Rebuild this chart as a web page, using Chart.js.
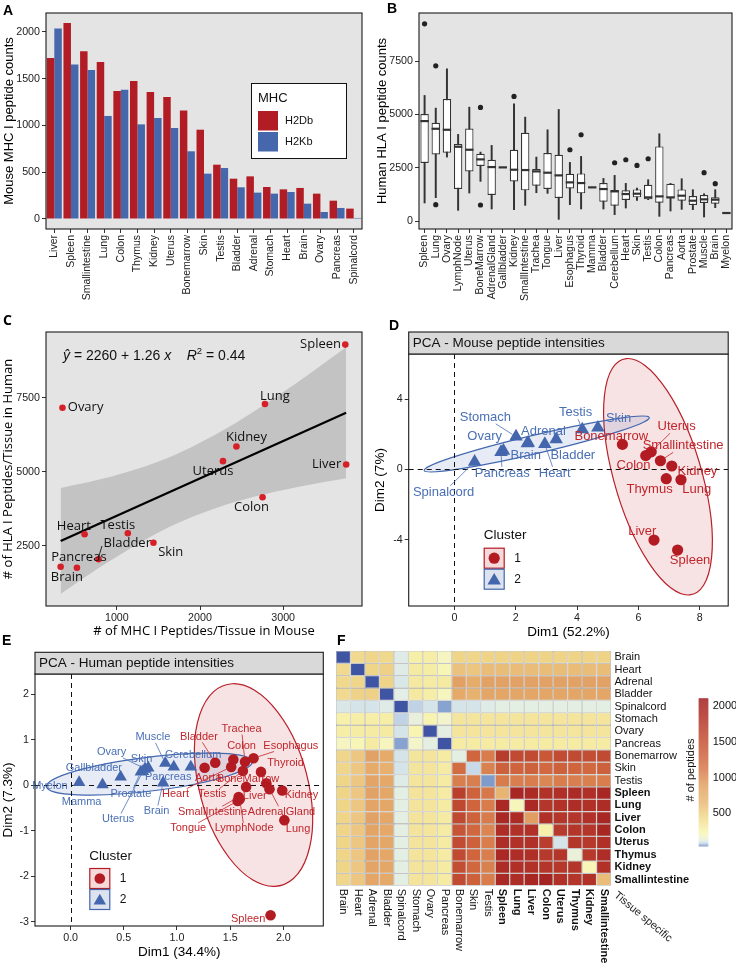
<!DOCTYPE html>
<html>
<head>
<meta charset="utf-8">
<script src="https://cdn.jsdelivr.net/npm/chart.js@4.4.1/dist/chart.umd.min.js"></script>
<style>
  body { margin: 0; background: #fff; }
  #fig { position: relative; width: 736px; height: 963px; overflow: hidden; font-family: 'Liberation Sans', Arial, sans-serif; }
  #fig canvas { position: absolute; }
  .tag { position: absolute; font-weight: bold; font-size: 14px; line-height: 1; color: #000; }
</style>
</head>
<body>
<div id="fig">
  <canvas id="cA" width="368" height="305" style="left:0;top:0"></canvas>
  <canvas id="cB" width="370" height="305" style="left:366px;top:0"></canvas>
  <canvas id="cC" width="368" height="340" style="left:0;top:300px"></canvas>
  <canvas id="cD" width="370" height="340" style="left:366px;top:300px"></canvas>
  <canvas id="cE" width="368" height="323" style="left:0;top:640px"></canvas>
  <canvas id="cF" width="406" height="323" style="left:330px;top:640px"></canvas>
  <div class="tag" style="left:3px;top:3px">A</div>
  <div class="tag" style="left:387px;top:1px">B</div>
  <div class="tag" style="left:3px;top:313px;font-family:'Open Sans'">C</div>
  <div class="tag" style="left:389px;top:318px">D</div>
  <div class="tag" style="left:2px;top:633px">E</div>
  <div class="tag" style="left:337px;top:633px">F</div>
</div>
<script>
// ---- A: mouse MHC I peptide counts
const mouseTissues = ['Liver','Spleen','Smallintestine','Lung','Colon','Thymus','Kidney','Uterus','Bonemarrow','Skin','Testis','Bladder','Adrenal','Stomach','Heart','Brain','Ovary','Pancreas','Spinalcord'];
const h2db = [1722,2096,1793,1679,1369,1476,1358,1305,1159,955,581,431,456,342,317,332,271,196,111];
const h2kb = [2036,1651,1594,1102,1383,1012,1080,973,724,485,545,339,282,271,289,164,75,118,11];
const aYTicks = [0,500,1000,1500,2000];

// ---- B: human HLA I peptide counts (box stats)
const humanTissues = ['Spleen','Lung','Ovary','LymphNode','Uterus','BoneMarrow','AdrenalGland','Gallbladder','Kidney','SmallIntestine','Trachea','Tongue','Liver','Esophagus','Thyroid','Mamma','Bladder','Cerebellum','Heart','Skin','Testis','Colon','Pancreas','Aorta','Prostate','Muscle','Brain','Myelon'];
const hLow  = [844,1094,3000,500,1313,1859,563,null,531,734,1328,1297,78,766,563,null,563,297,609,969,1000,219,469,547,531,188,625,null];
const hQ1   = [2719,3125,3203,1500,2328,2578,1219,null,1859,1438,1656,1500,1078,1531,1297,null,906,719,984,1109,1016,859,1063,953,750,844,813,null];
const hMed  = [4688,4328,4281,3484,3344,2891,2531,2516,2406,2391,2328,2266,2141,1813,1781,1578,1500,1391,1266,1281,1109,1156,1109,1188,953,1016,1000,375];
const hQ3   = [5016,4609,5719,3609,4344,3156,2875,null,3344,4141,2438,3188,3109,2219,2234,null,1781,1453,1438,1484,1703,3500,1750,1484,1172,1219,1109,null];
const hHigh = [5891,5297,7141,4063,5344,3234,3547,null,5500,4875,3000,4281,5234,2750,3031,null,2000,2141,1766,1547,1938,4094,1766,1984,1469,1281,1469,null];
const outlierTissues = ['Spleen','Lung','Lung','BoneMarrow','BoneMarrow','Kidney','Esophagus','Thyroid','Cerebellum','Heart','Skin','Testis','Muscle','Brain'];
const outlierCounts  = [9250,7281,766,5328,750,5844,3344,4047,2734,2875,2609,2922,2266,1750];
const bYTicks = [0,2500,5000,7500];

// ---- C: mouse vs human per tissue
const cTissues = ['Spleen','Lung','Ovary','Kidney','Uterus','Liver','Colon','Heart','Testis','Skin','Bladder','Pancreas','Brain'];
const cMouse = [3747,2781,346,2438,2276,3758,2752,612,1132,1440,780,324,520];
const cHuman = [9290,7287,7162,5855,5361,5247,4145,2895,2929,2611,2051,1801,1767];
const fitX = [324,3757];
const fitY = [2668,6994];
const bandX  = [324,800,1300,1762,2300,2800,3300,3757];
const bandHi = [4454,4747,5149,5653,6435,7312,8276,9200];
const bandLo = [882,1789,2647,3307,3881,4264,4560,4788];
const cXTicks = [1000,2000,3000];
const cYTicks = [2500,5000,7500];

// ---- D: PCA mouse
const mouseC1Names = ['Bonemarrow','Colon','Uterus','Smallintestine','Kidney','Thymus','Lung','Liver','Spleen'];
const mouseC1Dim1 = [5.48,6.24,6.42,6.72,7.09,6.91,7.39,6.51,7.28];
const mouseC1Dim2 = [1.42,0.78,1.0,0.49,0.19,-0.53,-0.59,-4.02,-4.59];
const mouseC2Names = ['Spinalcord','Pancreas','Ovary','Stomach','Adrenal','Brain','Heart','Bladder','Testis','Skin'];
const mouseC2Dim1 = [0.66,1.52,1.6,2.01,2.41,2.38,2.95,3.32,4.17,4.68];
const mouseC2Dim2 = [0.43,0.98,1.05,1.86,1.51,1.48,1.44,1.71,2.27,2.37];
const dXTicks = [0,2,4,6,8];
const dYTicks = [-4,0,4];

// ---- E: PCA human
const humanC1Names = ['Aorta','Bladder','Colon','Heart','Trachea','Esophagus','Testis','Thyroid','Liver','BoneMarrow','AdrenalGland','Kidney','SmallIntestine','Tongue','LymphNode','Lung','Spleen'];
const humanC1Dim1 = [1.26,1.36,1.53,1.51,1.64,1.72,1.62,1.79,1.65,1.84,1.87,1.99,1.58,1.57,1.59,2.01,1.88];
const humanC1Dim2 = [0.38,0.49,0.56,0.40,0.51,0.59,0.31,0.29,-0.04,0.04,-0.09,-0.12,-0.26,-0.35,-0.31,-0.77,-2.86];
const humanC2Names = ['Myelon','Mamma','Gallbladder','Prostate','Ovary','Skin','Muscle','Pancreas','Uterus','Brain','Cerebellum'];
const humanC2Dim1 = [0.08,0.30,0.47,0.66,0.70,0.73,0.89,0.97,0.68,0.87,1.13];
const humanC2Dim2 = [0.06,0.01,0.18,0.29,0.36,0.38,0.48,0.40,0.30,0.05,0.40];
const eXTicks = [0,0.5,1,1.5,2];
const eYTicks = [-3,-2,-1,0,1,2];

// ---- F: shared peptides heatmap (rows top to bottom, same column order)
const heatTissues = ['Brain','Heart','Adrenal','Bladder','Spinalcord','Stomach','Ovary','Pancreas','Bonemarrow','Skin','Testis','Spleen','Lung','Liver','Colon','Uterus','Thymus','Kidney','Smallintestine'];
const heatBold = ['Spleen','Lung','Liver','Colon','Uterus','Thymus','Kidney','Smallintestine'];
const hmBrain      = [0,440,470,450,105,290,300,190,480,470,490,490,490,490,490,490,490,490,490];
const hmHeart      = [440,0,480,510,105,330,310,220,600,580,640,640,640,640,640,640,640,640,640];
const hmAdrenal    = [450,470,0,490,100,340,320,330,900,800,880,880,880,880,880,880,880,880,880];
const hmBladder    = [440,500,510,0,110,340,300,200,820,740,850,850,850,850,850,850,850,850,850];
const hmSpinalcord = [100,95,95,105,0,75,95,45,95,95,105,115,115,115,115,115,115,115,115];
const hmStomach    = [280,300,300,300,75,130,250,165,360,360,370,370,370,370,370,370,370,370,370];
const hmOvary      = [300,310,320,330,95,240,0,120,370,370,370,370,370,370,370,370,370,370,370];
const hmPancreas   = [190,220,320,200,45,170,120,0,320,320,320,320,320,320,320,320,320,320,320];
const hmBonemarrow = [470,570,880,810,95,360,370,320,115,1300,1120,1750,1600,1600,1450,1580,1600,1560,1600];
const hmSkin       = [470,570,810,760,95,360,370,320,1250,80,1080,1350,1330,1350,1280,1350,1320,1280,1350];
const hmTestis     = [480,570,870,830,105,370,370,320,1100,1100,40,1120,1100,1110,1050,1110,1100,1090,1110];
const hmSpleen     = [480,570,880,840,115,380,370,320,1700,1340,1150,720,2000,1950,1850,1880,1950,1880,2000];
const hmLung       = [480,570,870,840,115,380,370,320,1620,1320,1120,1980,210,1980,1820,1850,1920,1860,1930];
const hmLiver      = [480,570,880,840,115,380,370,320,1620,1340,1130,1980,1950,920,1880,1820,1820,1860,2000];
const hmColon      = [480,570,870,830,115,380,370,320,1480,1290,1060,1920,1860,1860,280,1760,1820,1820,2000];
const hmUterus     = [480,570,870,840,115,380,370,320,1580,1350,1110,1920,1860,1860,1730,95,1820,1780,1880];
const hmThymus     = [480,570,880,840,115,380,370,320,1600,1320,1100,1980,1920,1880,1780,1820,140,1780,1920];
const hmKidney     = [480,570,870,840,115,380,370,320,1560,1290,1090,1930,1880,1860,1820,1790,1820,220,1860];
const hmSmallint   = [470,570,860,820,115,380,370,320,1600,1350,1110,1980,1920,2000,2060,1860,1820,1860,640];
const heatRows = [hmBrain,hmHeart,hmAdrenal,hmBladder,hmSpinalcord,hmStomach,hmOvary,hmPancreas,hmBonemarrow,hmSkin,hmTestis,hmSpleen,hmLung,hmLiver,hmColon,hmUterus,hmThymus,hmKidney,hmSmallint];
const heatTicks = [500,1000,1500,2000];

// ---------------------------------------------------------------------------
const FONT = "'Liberation Sans', Arial, sans-serif";
const RED = '#B21C24', BLUE = '#4767AC';
const PT_RED = '#B31B22', PT_BLUE = '#4366AD';
const TXT_RED = '#C0262C', TXT_BLUE = '#4A70B6';

Chart.defaults.font.family = FONT;
Chart.defaults.color = '#333';
Chart.defaults.animation = false;
Chart.defaults.responsive = false;
Chart.defaults.devicePixelRatio = 1;
Chart.defaults.plugins.legend.display = false;
Chart.defaults.plugins.tooltip.enabled = false;

const tickGrid = () => ({ drawOnChartArea: false, drawTicks: true, tickLength: 4, color: '#333', lineWidth: 1, offset: false });
const fixW = w => s => { s.width = w; s.paddingTop = 0; s.paddingBottom = 0; };
const fixH = h => s => { s.height = h; s.paddingLeft = 0; s.paddingRight = 0; };
const setTicks = vals => s => { s.ticks = vals.map(v => ({ value: v })); };
const tickFont = { size: 10.7 };
const plain = v => String(v);

// panel background + border
const frame = {
  id: 'frame',
  beforeDraw(chart, args, o) {
    if (!o.fill) return;
    const { ctx, chartArea: a } = chart;
    ctx.save(); ctx.fillStyle = o.fill; ctx.fillRect(a.left, a.top, a.width, a.height); ctx.restore();
  },
  afterDraw(chart, args, o) {
    const { ctx, chartArea: a } = chart;
    ctx.save(); ctx.strokeStyle = '#1a1a1a'; ctx.lineWidth = 1.1;
    ctx.strokeRect(a.left, a.top, a.width, a.height); ctx.restore();
  }
};

// ---------------- A
const mhcLegend = {
  id: 'mhcLegend',
  afterDraw(chart) {
    const ctx = chart.ctx;
    ctx.save();
    ctx.fillStyle = '#fff'; ctx.fillRect(251, 83, 95, 75);
    ctx.strokeStyle = '#111'; ctx.lineWidth = 1; ctx.strokeRect(251.5, 83.5, 95, 75);
    ctx.textBaseline = 'middle'; ctx.fillStyle = '#111';
    ctx.font = "13px " + FONT; ctx.fillText('MHC', 258, 98);
    chart.data.datasets.forEach((d, i) => {
      const y = 111 + i * 21;
      ctx.fillStyle = d.backgroundColor; ctx.fillRect(258, y, 20, 19.5);
      ctx.fillStyle = '#111'; ctx.font = "11px " + FONT; ctx.fillText(d.label, 285, y + 10);
    });
    ctx.restore();
  }
};

new Chart(document.getElementById('cA'), {
  type: 'bar',
  data: {
    labels: mouseTissues,
    datasets: [
      { label: 'H2Db', data: h2db, backgroundColor: RED, categoryPercentage: 0.9, barPercentage: 1 },
      { label: 'H2Kb', data: h2kb, backgroundColor: BLUE, categoryPercentage: 0.9, barPercentage: 1 }
    ]
  },
  options: {
    layout: { padding: { top: 13, right: 6, left: 0, bottom: 0 } },
    plugins: { frame: { fill: '#E4E4E4' } },
    scales: {
      x: { offset: true, grid: tickGrid(), border: { display: false },
           ticks: { color: '#222', font: { size: 10.5 }, maxRotation: 90, minRotation: 90, autoSkip: false, padding: 2 },
           afterFit: fixH(76) },
      y: { min: -107, max: 2203, grid: tickGrid(), border: { display: false },
           ticks: { color: '#222', font: tickFont, padding: 2, callback: plain },
           afterBuildTicks: setTicks(aYTicks),
           title: { display: true, text: 'Mouse MHC I peptide counts', color: '#000', font: { size: 13 }, padding: { top: 1.7, bottom: 0 } },
           afterFit: fixW(46) }
    }
  },
  plugins: [frame, mhcLegend]
});

// ---------------- B
const medians = {
  id: 'medians',
  afterDatasetsDraw(chart) {
    const { ctx, scales: { x, y } } = chart;
    const w = (x.getPixelForValue(1) - x.getPixelForValue(0)) * 0.75;
    ctx.save(); ctx.strokeStyle = '#333'; ctx.lineWidth = 2.2;
    hMed.forEach((m, i) => {
      const px = x.getPixelForValue(i), py = y.getPixelForValue(m);
      ctx.beginPath(); ctx.moveTo(px - w / 2, py); ctx.lineTo(px + w / 2, py); ctx.stroke();
    });
    ctx.restore();
  }
};

new Chart(document.getElementById('cB'), {
  type: 'bar',
  data: {
    labels: humanTissues,
    datasets: [
      { type: 'line', showLine: false, data: outlierTissues.map((t, i) => ({ x: t, y: outlierCounts[i] })),
        pointRadius: 2.6, pointBackgroundColor: '#222', pointBorderWidth: 0 },
      { data: hQ1.map((q, i) => q == null ? null : [q, hQ3[i]]), backgroundColor: '#fff', borderColor: '#333',
        borderWidth: 1.2, borderSkipped: false, grouped: false, categoryPercentage: 1, barPercentage: 0.75 },
      { data: hLow.map((l, i) => l == null ? null : [l, hHigh[i]]), backgroundColor: '#333', grouped: false, barThickness: 1.3 }
    ]
  },
  options: {
    layout: { padding: { top: 13, right: 1, left: 0, bottom: 0 } },
    plugins: { frame: { fill: '#E4E4E4' } },
    scales: {
      x: { offset: true, grid: tickGrid(), border: { display: false },
           ticks: { color: '#222', font: { size: 10.5 }, maxRotation: 90, minRotation: 90, autoSkip: false, padding: 2 },
           afterFit: fixH(76) },
      y: { min: -375, max: 9760, grid: tickGrid(), border: { display: false },
           ticks: { color: '#222', font: tickFont, padding: 2, callback: plain },
           afterBuildTicks: setTicks(bYTicks),
           title: { display: true, text: 'Human HLA I peptide counts', color: '#000', font: { size: 13 }, padding: { top: 8.5, bottom: 0 } },
           afterFit: fixW(53) }
    }
  },
  plugins: [frame, medians]
});

// ---------------- C
const cLabelPos = {
  Spleen: [-4.3, 0, 'right'], Lung: [10, -7.6], Ovary: [5.3, 0, 'left'], Kidney: [10, -8.7],
  Uterus: [-10, 10.4], Liver: [-5, 0, 'right'], Colon: [-11, 9.7], Heart: [-10.7, -8.3],
  Testis: [-10, -8.3], Skin: [17.3, 9.3], Bladder: [28.7, -16.3], Pancreas: [18.3, -9], Brain: [-10, 9.3]
};
const cDecor = {
  id: 'cDecor',
  afterDatasetsDraw(chart) {
    const ctx = chart.ctx, meta = chart.getDatasetMeta(0);
    ctx.save();
    ctx.font = "13px 'Open Sans'"; ctx.fillStyle = '#111'; ctx.textBaseline = 'middle';
    cTissues.forEach((n, i) => {
      const p = meta.data[i], pos = cLabelPos[n];
      ctx.textAlign = pos[2] || 'center';
      ctx.fillText(n, p.x + pos[0], p.y + pos[1]);
      if (n === 'Bladder') {
        ctx.strokeStyle = '#111'; ctx.lineWidth = 0.9;
        ctx.beginPath(); ctx.moveTo(p.x, p.y - 2); ctx.lineTo(p.x + 3.4, p.y - 13.3); ctx.stroke();
      }
    });
    // fitted equation
    let x = 63; const y = 56;
    const seg = (t, it, dy, sz) => {
      ctx.font = (it ? 'italic ' : '') + (sz || 14) + "px " + FONT;
      ctx.textAlign = 'left'; ctx.fillText(t, x, y + (dy || 0)); x += ctx.measureText(t).width;
    };
    seg('y\u0302', true); seg(' = 2260 + 1.26 '); seg('x', true); seg('    '); seg('R', true);
    seg('2', false, -5, 9.5); seg(' = 0.44');
    ctx.restore();
  }
};

new Chart(document.getElementById('cC'), {
  type: 'scatter',
  data: {
    datasets: [
      { data: cMouse.map((v, i) => ({ x: v, y: cHuman[i] })), pointRadius: 3.3, backgroundColor: '#D62027', borderWidth: 0 },
      { data: fitX.map((v, i) => ({ x: v, y: fitY[i] })), showLine: true, borderColor: '#000', borderWidth: 2.2, pointRadius: 0 },
      { data: bandX.map((v, i) => ({ x: v, y: bandHi[i] })), showLine: true, borderColor: 'rgba(0,0,0,0)', pointRadius: 0,
        fill: '+1', backgroundColor: '#C3C3C3', tension: 0.35 },
      { data: bandX.map((v, i) => ({ x: v, y: bandLo[i] })), showLine: true, borderColor: 'rgba(0,0,0,0)', pointRadius: 0, tension: 0.35 }
    ]
  },
  options: {
    layout: { padding: { top: 32, right: 6, left: 0, bottom: 0 } },
    plugins: { frame: { fill: '#E4E4E4' } },
    scales: {
      x: { type: 'linear', min: 148, max: 3948, grid: tickGrid(), border: { display: false },
           ticks: { color: '#222', font: tickFont, padding: 2, callback: plain },
           afterBuildTicks: setTicks(cXTicks),
           title: { display: true, text: '# of MHC I Peptides/Tissue in Mouse', color: '#000', font: { size: 13, family: "'Open Sans'" }, padding: { top: 0, bottom: 0.5 } },
           afterFit: fixH(34) },
      y: { min: 477, max: 9715, grid: tickGrid(), border: { display: false },
           ticks: { color: '#222', font: tickFont, padding: 2, callback: plain },
           afterBuildTicks: setTicks(cYTicks),
           title: { display: true, text: '# of HLA I Peptides/Tissue in Human', color: '#000', font: { size: 13, family: "'Open Sans'" }, padding: { top: 0, bottom: 0 } },
           afterFit: fixW(46) }
    }
  },
  plugins: [frame, cDecor]
});

// ---------------- D / E shared decoration
function triangle(ctx, x, y, r) {
  ctx.beginPath();
  for (let k = 0; k < 3; k++) {
    const a = k * 2 * Math.PI / 3;
    const px = x + Math.sin(a) * r, py = y - Math.cos(a) * r;
    k ? ctx.lineTo(px, py) : ctx.moveTo(px, py);
  }
  ctx.closePath(); ctx.fill();
}

const pcaDecor = {
  id: 'pcaDecor',
  beforeDatasetsDraw(chart, args, o) {
    const { ctx, chartArea: a, scales: { x, y } } = chart;
    const kx = x.getPixelForValue(1) - x.getPixelForValue(0);
    const ky = y.getPixelForValue(0) - y.getPixelForValue(1);
    ctx.save();
    ctx.beginPath(); ctx.rect(a.left, a.top, a.width, a.height); ctx.clip();
    o.ellipses.forEach(e => {
      ctx.save();
      ctx.translate(x.getPixelForValue(e.cx), y.getPixelForValue(e.cy));
      ctx.scale(kx, -ky);
      ctx.rotate(e.angle * Math.PI / 180);
      ctx.beginPath(); ctx.ellipse(0, 0, e.a, e.b, 0, 0, 2 * Math.PI);
      ctx.restore();
      ctx.fillStyle = e.fill; ctx.fill();
      ctx.strokeStyle = e.stroke; ctx.lineWidth = 1.2; ctx.stroke();
    });
    ctx.setLineDash([5, 4]); ctx.strokeStyle = '#111'; ctx.lineWidth = 1;
    const x0 = Math.round(x.getPixelForValue(0)) + 0.5, y0 = Math.round(y.getPixelForValue(0)) + 0.5;
    ctx.beginPath(); ctx.moveTo(x0, a.top); ctx.lineTo(x0, a.bottom); ctx.moveTo(a.left, y0); ctx.lineTo(a.right, y0); ctx.stroke();
    ctx.restore();
  },
  afterDatasetsDraw(chart, args, o) {
    const ctx = chart.ctx;
    ctx.save();
    ctx.font = o.labelSize + "px " + FONT; ctx.textAlign = 'center'; ctx.textBaseline = 'middle';
    chart.data.datasets.forEach((ds, di) => {
      const meta = chart.getDatasetMeta(di);
      ds.names.forEach((n, j) => {
        const p = meta.data[j], pos = o.labelPos[n];
        if (!pos) return;
        const lx = p.x + pos[0], ly = p.y + pos[1];
        if (pos[2]) {
          const w = ctx.measureText(n).width / 2 + 1, h = o.labelSize / 2;
          const dx = lx - p.x, dy = ly - p.y;
          const t = Math.min(dx ? w / Math.abs(dx) : Infinity, dy ? h / Math.abs(dy) : Infinity);
          const len = Math.hypot(dx, dy);
          if (t < 1) {
            ctx.strokeStyle = ds.labelColor; ctx.lineWidth = 0.8;
            ctx.beginPath(); ctx.moveTo(p.x + dx / len * 4, p.y + dy / len * 4);
            ctx.lineTo(lx - t * dx, ly - t * dy); ctx.stroke();
          }
        }
        ctx.fillStyle = ds.labelColor; ctx.fillText(n, lx, ly);
      });
    });
    ctx.restore();
  },
  afterDraw(chart, args, o) {
    const { ctx, chartArea: a } = chart;
    ctx.save();
    // strip
    ctx.fillStyle = '#D9D9D9'; ctx.fillRect(a.left, o.stripTop, a.width, a.top - o.stripTop);
    ctx.strokeStyle = '#1a1a1a'; ctx.lineWidth = 1.1; ctx.strokeRect(a.left, o.stripTop, a.width, a.top - o.stripTop);
    ctx.fillStyle = '#111'; ctx.font = "13.5px " + FONT; ctx.textBaseline = 'middle'; ctx.textAlign = 'left';
    ctx.fillText(o.strip, a.left + 4, (o.stripTop + a.top) / 2 + 0.5);
    // legend
    const L = o.legend;
    ctx.fillText('Cluster', L.x, L.y);
    chart.data.datasets.forEach((ds, i) => {
      const bx = L.x + 0.5, by = L.y + 12.5 + i * 21;
      ctx.fillStyle = ds.keyFill; ctx.fillRect(bx, by, 20, 20);
      ctx.strokeStyle = ds.backgroundColor; ctx.lineWidth = 1.2; ctx.strokeRect(bx, by, 20, 20);
      ctx.fillStyle = ds.backgroundColor;
      if (ds.pointStyle === 'triangle') triangle(ctx, bx + 10, by + 11.5, ds.pointRadius);
      else { ctx.beginPath(); ctx.arc(bx + 10, by + 10, ds.pointRadius, 0, 2 * Math.PI); ctx.fill(); }
      ctx.fillStyle = '#111'; ctx.font = "12px " + FONT; ctx.fillText(ds.label, bx + 30, by + 10);
    });
    ctx.restore();
  }
};

// ---------------- D
const mouseLabelPos = {
  Spinalcord: [-31, 30.6, 1], Pancreas: [1.3, 21.2, 1], Ovary: [-18.8, -14.1], Stomach: [-30.6, -19.3, 1],
  Adrenal: [15.1, -11.8], Brain: [-1.6, 11.7], Heart: [9.9, 29.3, 1], Bladder: [16.6, 15.8],
  Testis: [-6.7, -16.7, 1], Skin: [20.7, -9.3], Bonemarrow: [-11.1, -7.6], Colon: [-12.2, 10.1],
  Uterus: [25.4, -25, 1], Smallintestine: [22.7, -15, 1], Kidney: [25.7, 5], Thymus: [-16.7, 10.4],
  Lung: [15.7, 9.6], Liver: [-11.7, -8.3], Spleen: [12.5, 10]
};
new Chart(document.getElementById('cD'), {
  type: 'scatter',
  data: {
    datasets: [
      { label: '1', names: mouseC1Names, data: mouseC1Dim1.map((v, i) => ({ x: v, y: mouseC1Dim2[i] })),
        pointStyle: 'circle', pointRadius: 5.6, backgroundColor: PT_RED, borderWidth: 0, labelColor: TXT_RED, keyFill: '#F6DADB' },
      { label: '2', names: mouseC2Names, data: mouseC2Dim1.map((v, i) => ({ x: v, y: mouseC2Dim2[i] })),
        pointStyle: 'triangle', pointRadius: 7.8, backgroundColor: PT_BLUE, borderWidth: 0, labelColor: TXT_BLUE, keyFill: '#DDE2EF' }
    ]
  },
  options: {
    layout: { padding: { top: 54, right: 1, left: 0, bottom: 0 } },
    plugins: {
      frame: {},
      pcaDecor: {
        strip: 'PCA - Mouse peptide intensities', stripTop: 32, labelSize: 13, labelPos: mouseLabelPos,
        legend: { x: 117.7, y: 235.7 },
        ellipses: [
          { cx: 6.64, cy: -0.42, a: 6.80, b: 1.46, angle: 98.7, fill: 'rgba(200,40,45,0.13)', stroke: '#B8202A' },
          { cx: 2.685, cy: 1.44, a: 3.97, b: 0.50, angle: 22.5, fill: 'rgba(70,100,175,0.13)', stroke: '#4468AE' }
        ]
      }
    },
    scales: {
      x: { min: -1.49, max: 8.93, grid: tickGrid(), border: { display: false },
           ticks: { color: '#222', font: tickFont, padding: 2, callback: plain },
           afterBuildTicks: setTicks(dXTicks),
           title: { display: true, text: 'Dim1 (52.2%)', color: '#000', font: { size: 13.5 }, padding: { top: 0, bottom: 0 } },
           afterFit: fixH(34) },
      y: { min: -7.77, max: 6.56, grid: tickGrid(), border: { display: false },
           ticks: { color: '#222', font: tickFont, padding: 2, callback: plain },
           afterBuildTicks: setTicks(dYTicks),
           title: { display: true, text: 'Dim2 (7%)', color: '#000', font: { size: 13.5 }, padding: { top: 6, bottom: 0 } },
           afterFit: fixW(42.7) }
    }
  },
  plugins: [frame, pcaDecor]
});

// ---------------- E
const humanLabelPos = {
  Myelon: [-29.2, 3.4], Mamma: [-20.9, 17.8], Gallbladder: [-26.7, -8.5], Prostate: [-9.9, 21.9, 1],
  Ovary: [-33.5, -16.3, 1], Skin: [-6.7, -8.4], Muscle: [-12.4, -25.9, 1], Pancreas: [-5.6, 10.5],
  Uterus: [-24.8, 47.6, 1], Brain: [-6.6, 28.3, 1], Cerebellum: [2.4, -11.8],
  Aorta: [3.5, 10.6], Bladder: [-16.4, -26, 1], Colon: [8.2, -13.5], Heart: [-55.7, 27.2, 1],
  Trachea: [-3.5, -32.8, 1], Esophagus: [37.3, -12.2, 1], Testis: [-30.8, 23.1, 1], Thyroid: [24.5, -9.1],
  Liver: [8.7, 8.9], BoneMarrow: [-18.2, -3.9], AdrenalGland: [12, 22.6, 1], Kidney: [19.3, 4.5],
  SmallIntestine: [-26.1, 14.9, 1], Tongue: [-49.4, 27.4, 1], LymphNode: [4.4, 29.2, 1], Lung: [13.7, 9.3],
  Spleen: [-22.4, 3.9]
};
new Chart(document.getElementById('cE'), {
  type: 'scatter',
  data: {
    datasets: [
      { label: '1', names: humanC1Names, data: humanC1Dim1.map((v, i) => ({ x: v, y: humanC1Dim2[i] })),
        pointStyle: 'circle', pointRadius: 5.3, backgroundColor: PT_RED, borderWidth: 0, labelColor: TXT_RED, keyFill: '#F6DADB' },
      { label: '2', names: humanC2Names, data: humanC2Dim1.map((v, i) => ({ x: v, y: humanC2Dim2[i] })),
        pointStyle: 'triangle', pointRadius: 7.2, backgroundColor: PT_BLUE, borderWidth: 0, labelColor: TXT_BLUE, keyFill: '#DDE2EF' }
    ]
  },
  options: {
    layout: { padding: { top: 34, right: 44.7, left: 0, bottom: 0 } },
    plugins: {
      frame: {},
      pcaDecor: {
        strip: 'PCA - Human peptide intensities', stripTop: 12.3, labelSize: 11, labelPos: humanLabelPos,
        legend: { x: 89.3, y: 216 },
        ellipses: [
          { cx: 1.72, cy: 0.0, a: 2.235, b: 0.52, angle: 95.1, fill: 'rgba(200,40,45,0.13)', stroke: '#B8202A' },
          { cx: 0.74, cy: 0.24, a: 1.01, b: 0.36, angle: 17.8, fill: 'rgba(70,100,175,0.13)', stroke: '#4468AE' }
        ]
      }
    },
    scales: {
      x: { min: -0.335, max: 2.376, grid: tickGrid(), border: { display: false },
           ticks: { color: '#222', font: tickFont, padding: 2, callback: v => v.toFixed(1) },
           afterBuildTicks: setTicks(eXTicks),
           title: { display: true, text: 'Dim1 (34.4%)', color: '#000', font: { size: 13.5 }, padding: { top: 0, bottom: 2.9 } },
           afterFit: fixH(37) },
      y: { min: -3.095, max: 2.44, grid: tickGrid(), border: { display: false },
           ticks: { color: '#222', font: tickFont, padding: 2, callback: plain },
           afterBuildTicks: setTicks(eYTicks),
           title: { display: true, text: 'Dim2 (7.3%)', color: '#000', font: { size: 13.5 }, padding: { top: 0, bottom: 0 } },
           afterFit: fixW(35) }
    }
  },
  plugins: [frame, pcaDecor]
});

// ---------------- F
const heatStops = [
  [0, '#3F54A3'], [40, '#7E9BCB'], [80, '#C8DAEA'], [110, '#E2EEE6'], [170, '#F4F4CA'], [220, '#F8F6B6'],
  [300, '#F6EEA6'], [370, '#F4E49C'], [480, '#EFD588'], [560, '#EDC882'], [640, '#E9BC78'], [800, '#E6AC6A'],
  [900, '#E2A064'], [1100, '#D97E4E'], [1300, '#D0663E'], [1600, '#C04A32'], [1850, '#B23228'], [2100, '#A22020']
];
function heatColor(v) {
  const hex = h => [1, 3, 5].map(k => parseInt(h.substr(k, 2), 16));
  if (v <= heatStops[0][0]) return heatStops[0][1];
  for (let i = 1; i < heatStops.length; i++) {
    if (v <= heatStops[i][0]) {
      const [v0, c0] = heatStops[i - 1], [v1, c1] = heatStops[i];
      const t = (v - v0) / (v1 - v0), a = hex(c0), b = hex(c1);
      return 'rgb(' + a.map((c, k) => Math.round(c + (b[k] - c) * t)).join(',') + ')';
    }
  }
  return heatStops[heatStops.length - 1][1];
}

const heatDecor = {
  id: 'heatDecor',
  afterDraw(chart) {
    const { ctx, chartArea: a, scales: { x, y } } = chart;
    const n = heatTissues.length;
    ctx.save();
    ctx.fillStyle = '#111'; ctx.textBaseline = 'middle'; ctx.textAlign = 'left';
    heatTissues.forEach((t, i) => {
      ctx.font = (heatBold.includes(t) ? 'bold ' : '') + "11px " + FONT;
      ctx.fillText(t, a.right + 3.5, y.getPixelForValue(n - i - 0.5));
      ctx.save(); ctx.translate(x.getPixelForValue(i), a.bottom + 3); ctx.rotate(Math.PI / 2);
      ctx.fillText(t, 0, 0); ctx.restore();
    });
    // tissue specific
    ctx.save(); ctx.font = "11px " + FONT; ctx.fillStyle = '#222'; ctx.textBaseline = 'top';
    ctx.translate(a.right + 8, a.bottom + 4); ctx.rotate(39.8 * Math.PI / 180); ctx.fillText('Tissue specific', 0, 0); ctx.restore();
    // colour bar
    const bx = 368.7, bw = 9.6, vLo = 42, vHi = 2108, yLo = 206, yHi = 58.3;
    const vy = v => yLo - (v - vLo) / (vHi - vLo) * (yLo - yHi);
    for (let py = yHi; py < yLo; py += 1) {
      const v = vLo + (yLo - py - 0.5) / (yLo - yHi) * (vHi - vLo);
      ctx.fillStyle = heatColor(v); ctx.fillRect(bx, py, bw, 1.2);
    }
    ctx.fillStyle = '#111'; ctx.font = "11px " + FONT; ctx.textBaseline = 'middle';
    heatTicks.forEach(v => ctx.fillText(String(v), bx + 14, vy(v)));
    ctx.save(); ctx.translate(361, 130); ctx.rotate(-Math.PI / 2); ctx.textAlign = 'center';
    ctx.fillText('# of peptides', 0, 0); ctx.restore();
    ctx.restore();
  }
};

new Chart(document.getElementById('cF'), {
  type: 'bar',
  data: {
    labels: heatTissues,
    datasets: heatRows.slice().reverse().map((row, r) => ({
      label: heatTissues[heatTissues.length - 1 - r],
      data: row.map(() => 1),
      backgroundColor: row.map(heatColor),
      borderColor: '#9E9E9E', borderWidth: 0.6, borderSkipped: false, inflateAmount: 0,
      categoryPercentage: 1, barPercentage: 1
    }))
  },
  options: {
    layout: { padding: { top: 11, right: 125, left: 6, bottom: 77.3 } },
    scales: {
      x: { stacked: true, display: false, offset: true },
      y: { stacked: true, display: false, min: 0, max: 19 }
    }
  },
  plugins: [heatDecor]
});
</script>
</body>
</html>
